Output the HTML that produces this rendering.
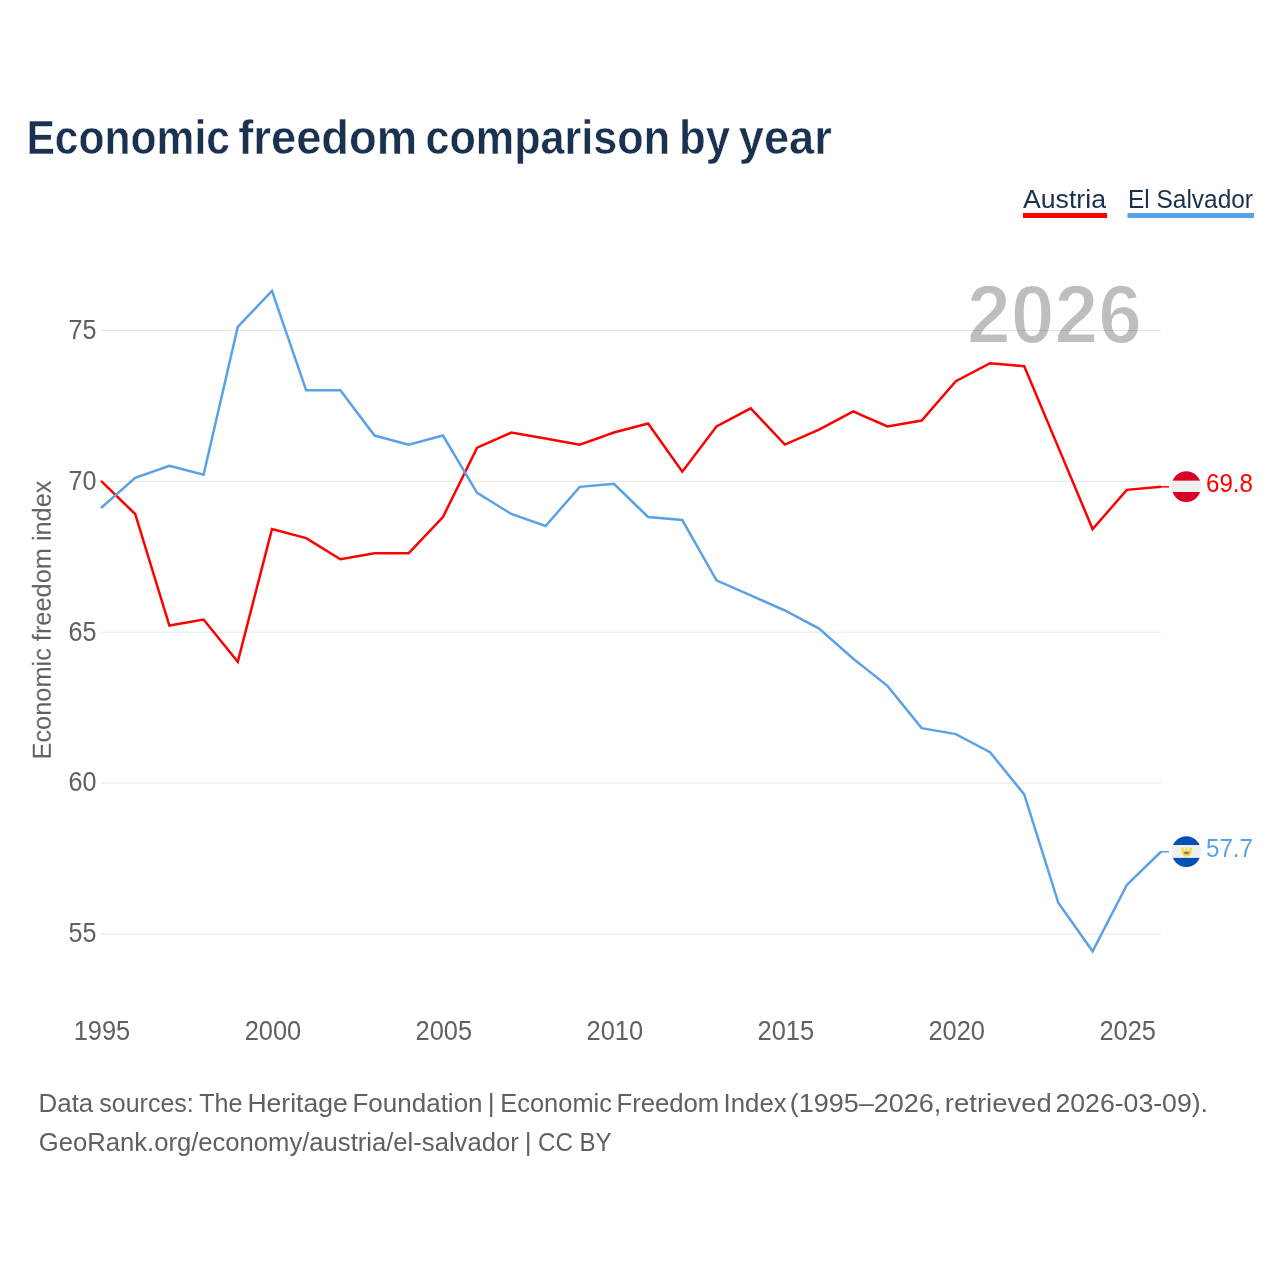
<!DOCTYPE html>
<html><head><meta charset="utf-8">
<style>
html,body{margin:0;padding:0;background:#fff;width:1280px;height:1280px;overflow:hidden}
svg{display:block}
text{font-family:"Liberation Sans",sans-serif}
.ax{font-size:26.5px;fill:#606060}
</style></head><body>
<svg width="1280" height="1280" viewBox="0 0 1280 1280">
<rect width="1280" height="1280" fill="#fff"/>
<g style="will-change:transform">
<text x="26.39" y="153.75" font-size="48.5" font-weight="bold" fill="#1a3250" stroke="#fff" stroke-width="0.5" textLength="203.58" lengthAdjust="spacingAndGlyphs">Economic</text>
<text x="238.16" y="153.75" font-size="48.5" font-weight="bold" fill="#1a3250" stroke="#fff" stroke-width="0.5" textLength="178.98" lengthAdjust="spacingAndGlyphs">freedom</text>
<text x="425.52" y="153.75" font-size="48.5" font-weight="bold" fill="#1a3250" stroke="#fff" stroke-width="0.5" textLength="244.56" lengthAdjust="spacingAndGlyphs">comparison</text>
<text x="679.09" y="153.75" font-size="48.5" font-weight="bold" fill="#1a3250" stroke="#fff" stroke-width="0.5" textLength="51.06" lengthAdjust="spacingAndGlyphs">by</text>
<text x="738.87" y="153.75" font-size="48.5" font-weight="bold" fill="#1a3250" stroke="#fff" stroke-width="0.5" textLength="92.87" lengthAdjust="spacingAndGlyphs">year</text>

<text x="1023" y="207.5" font-size="26.5" fill="#1a3250" textLength="83" lengthAdjust="spacingAndGlyphs">Austria</text>
<text x="1128" y="207.5" font-size="26.5" fill="#1a3250" textLength="125" lengthAdjust="spacingAndGlyphs">El Salvador</text>
<text x="967" y="343.3" font-size="83" font-weight="bold" fill="#bebebe" stroke="#fff" stroke-width="1.8" textLength="175" lengthAdjust="spacingAndGlyphs">2026</text>
</g>
<rect x="1023" y="213" width="84" height="5" fill="#ff0000"/>
<rect x="1127.5" y="213" width="126.5" height="5" fill="#5aa2e8"/>
<line x1="101" y1="330.5" x2="1161" y2="330.5" stroke="#000" stroke-opacity="0.1" stroke-width="1"/>
<line x1="101" y1="481.35" x2="1161" y2="481.35" stroke="#000" stroke-opacity="0.1" stroke-width="1"/>
<line x1="101" y1="632.2" x2="1161" y2="632.2" stroke="#000" stroke-opacity="0.1" stroke-width="1"/>
<line x1="101" y1="783.05" x2="1161" y2="783.05" stroke="#000" stroke-opacity="0.1" stroke-width="1"/>
<line x1="101" y1="933.9" x2="1161" y2="933.9" stroke="#000" stroke-opacity="0.1" stroke-width="1"/>

<g style="will-change:transform">
<text x="96.6" y="338.8" text-anchor="end" class="ax" style="font-size:27px" textLength="28" lengthAdjust="spacingAndGlyphs">75</text>
<text x="96.6" y="489.8" text-anchor="end" class="ax" style="font-size:27px" textLength="28" lengthAdjust="spacingAndGlyphs">70</text>
<text x="96.6" y="640.8" text-anchor="end" class="ax" style="font-size:27px" textLength="28" lengthAdjust="spacingAndGlyphs">65</text>
<text x="96.6" y="790.8" text-anchor="end" class="ax" style="font-size:27px" textLength="28" lengthAdjust="spacingAndGlyphs">60</text>
<text x="96.6" y="941.8" text-anchor="end" class="ax" style="font-size:27px" textLength="28" lengthAdjust="spacingAndGlyphs">55</text>

<text x="73.7" y="1040" class="ax" style="font-size:27px" textLength="56.5" lengthAdjust="spacingAndGlyphs">1995</text>
<text x="244.7" y="1040" class="ax" style="font-size:27px" textLength="56.5" lengthAdjust="spacingAndGlyphs">2000</text>
<text x="415.6" y="1040" class="ax" style="font-size:27px" textLength="56.5" lengthAdjust="spacingAndGlyphs">2005</text>
<text x="586.6" y="1040" class="ax" style="font-size:27px" textLength="56.5" lengthAdjust="spacingAndGlyphs">2010</text>
<text x="757.6" y="1040" class="ax" style="font-size:27px" textLength="56.5" lengthAdjust="spacingAndGlyphs">2015</text>
<text x="928.5" y="1040" class="ax" style="font-size:27px" textLength="56.5" lengthAdjust="spacingAndGlyphs">2020</text>
<text x="1099.5" y="1040" class="ax" style="font-size:27px" textLength="56.5" lengthAdjust="spacingAndGlyphs">2025</text>

<text transform="translate(50.8,620) rotate(-90)" text-anchor="middle" font-size="26.5" fill="#606060" textLength="279" lengthAdjust="spacingAndGlyphs">Economic freedom index</text>
</g>
<polyline points="101.00,480.80 135.19,513.98 169.39,625.57 203.58,619.54 237.77,661.76 271.97,529.06 306.16,538.10 340.35,559.22 374.55,553.18 408.74,553.18 442.94,516.99 477.13,447.62 511.32,432.54 545.52,438.58 579.71,444.61 613.90,432.54 648.10,423.50 682.29,471.75 716.48,426.51 750.68,408.42 784.87,444.61 819.06,429.53 853.26,411.43 887.45,426.51 921.65,420.48 955.84,381.27 990.03,363.18 1024.23,366.19 1058.42,447.62 1092.61,529.06 1126.81,489.85 1161.00,486.83" fill="none" stroke="#ff0000" stroke-width="2.5" stroke-linejoin="miter"/>
<polyline points="101.00,507.94 135.19,477.78 169.39,465.72 203.58,474.77 237.77,326.98 271.97,290.79 306.16,390.32 340.35,390.32 374.55,435.56 408.74,444.61 442.94,435.56 477.13,492.86 511.32,513.98 545.52,526.04 579.71,486.83 613.90,483.82 648.10,516.99 682.29,520.01 716.48,580.33 750.68,595.41 784.87,610.49 819.06,628.58 853.26,658.74 887.45,685.89 921.65,728.11 955.84,734.14 990.03,752.24 1024.23,794.46 1058.42,903.04 1092.61,951.30 1126.81,884.94 1161.00,851.77" fill="none" stroke="#5aa2e8" stroke-width="2.5" stroke-linejoin="miter"/>
<line x1="1160" y1="486.83" x2="1169" y2="486.83" stroke="#ff0000" stroke-width="1.5"/>
<line x1="1160" y1="851.77" x2="1169" y2="851.77" stroke="#5aa2e8" stroke-width="1.5"/>
<defs>
<clipPath id="ca"><ellipse cx="1186.3" cy="486.6" rx="14.8" ry="15.4"/></clipPath>
<clipPath id="ce"><ellipse cx="1186.3" cy="851.6" rx="14.8" ry="15.4"/></clipPath>
</defs>
<g clip-path="url(#ca)">
<rect x="1170" y="470.6" width="32" height="10.20" fill="#d80027"/>
<rect x="1170" y="480.80" width="32" height="11.2" fill="#eef0f0"/>
<rect x="1170" y="492.00" width="32" height="12" fill="#d80027"/>
</g>
<g clip-path="url(#ce)">
<rect x="1170" y="835.6" width="32" height="9.40" fill="#0052b4"/>
<rect x="1170" y="845.00" width="32" height="12.9" fill="#eef0f0"/>
<rect x="1170" y="857.90" width="32" height="12" fill="#0052b4"/>
<g transform="translate(1186.5,851.6)">
<path d="M-5.5,-1.5 C-5.5,-3.2 -4.6,-4 -3.6,-4 C-2.8,-4 -2.4,-3 -2.6,-1.8 L-2.8,0.2 L2.8,0.2 L2.6,-1.8 C2.4,-3 2.8,-4 3.8,-4 C4.8,-4 5.7,-3.2 5.7,-1.5 C5.7,2.2 3.4,5.1 0.1,5.1 C-3.2,5.1 -5.5,2.2 -5.5,-1.5 Z" fill="#ffda44"/>
<path d="M-1.9,-0.6 L0,-4.8 L1.9,-0.6 Z" fill="#ffda44"/>
<path d="M-3.3,0 L3.5,0 L2.3,2.9 L-2.1,2.9 Z" fill="#a4b43c"/>
<path d="M-2.3,0.6 L2.5,0.6 L1.7,2.0 L-1.5,2.0 Z" fill="#5f6070"/>
</g>
</g>
<g style="will-change:transform">
<text x="1206" y="492.4" font-size="26.5" fill="#ff0000" textLength="47" lengthAdjust="spacingAndGlyphs">69.8</text>
<text x="1206" y="857.4" font-size="26.5" fill="#5aa2e8" textLength="47" lengthAdjust="spacingAndGlyphs">57.7</text>
<text x="38.54" y="1112" font-size="26.5" fill="#606060" textLength="54.74" lengthAdjust="spacingAndGlyphs">Data</text>
<text x="99.36" y="1112" font-size="26.5" fill="#606060" textLength="94.37" lengthAdjust="spacingAndGlyphs">sources:</text>
<text x="199.20" y="1112" font-size="26.5" fill="#606060" textLength="43.44" lengthAdjust="spacingAndGlyphs">The</text>
<text x="247.40" y="1112" font-size="26.5" fill="#606060" textLength="100.38" lengthAdjust="spacingAndGlyphs">Heritage</text>
<text x="352.44" y="1112" font-size="26.5" fill="#606060" textLength="130.14" lengthAdjust="spacingAndGlyphs">Foundation</text>
<text x="487.80" y="1112" font-size="26.5" fill="#606060" textLength="6.89" lengthAdjust="spacingAndGlyphs">|</text>
<text x="500.28" y="1112" font-size="26.5" fill="#606060" textLength="111.73" lengthAdjust="spacingAndGlyphs">Economic</text>
<text x="616.46" y="1112" font-size="26.5" fill="#606060" textLength="102.82" lengthAdjust="spacingAndGlyphs">Freedom</text>
<text x="723.55" y="1112" font-size="26.5" fill="#606060" textLength="63.05" lengthAdjust="spacingAndGlyphs">Index</text>
<text x="789.66" y="1112" font-size="26.5" fill="#606060" textLength="151.62" lengthAdjust="spacingAndGlyphs">(1995–2026,</text>
<text x="944.83" y="1112" font-size="26.5" fill="#606060" textLength="106.86" lengthAdjust="spacingAndGlyphs">retrieved</text>
<text x="1055.50" y="1112" font-size="26.5" fill="#606060" textLength="152.46" lengthAdjust="spacingAndGlyphs">2026-03-09).</text>

<text x="38.83" y="1151" font-size="26.5" fill="#606060" textLength="479.84" lengthAdjust="spacingAndGlyphs">GeoRank.org/economy/austria/el-salvador</text>
<text x="524.75" y="1151" font-size="26.5" fill="#606060" textLength="6.89" lengthAdjust="spacingAndGlyphs">|</text>
<text x="537.99" y="1151" font-size="26.5" fill="#606060" textLength="73.72" lengthAdjust="spacingAndGlyphs">CC BY</text>

</g>
</svg>
</body></html>
